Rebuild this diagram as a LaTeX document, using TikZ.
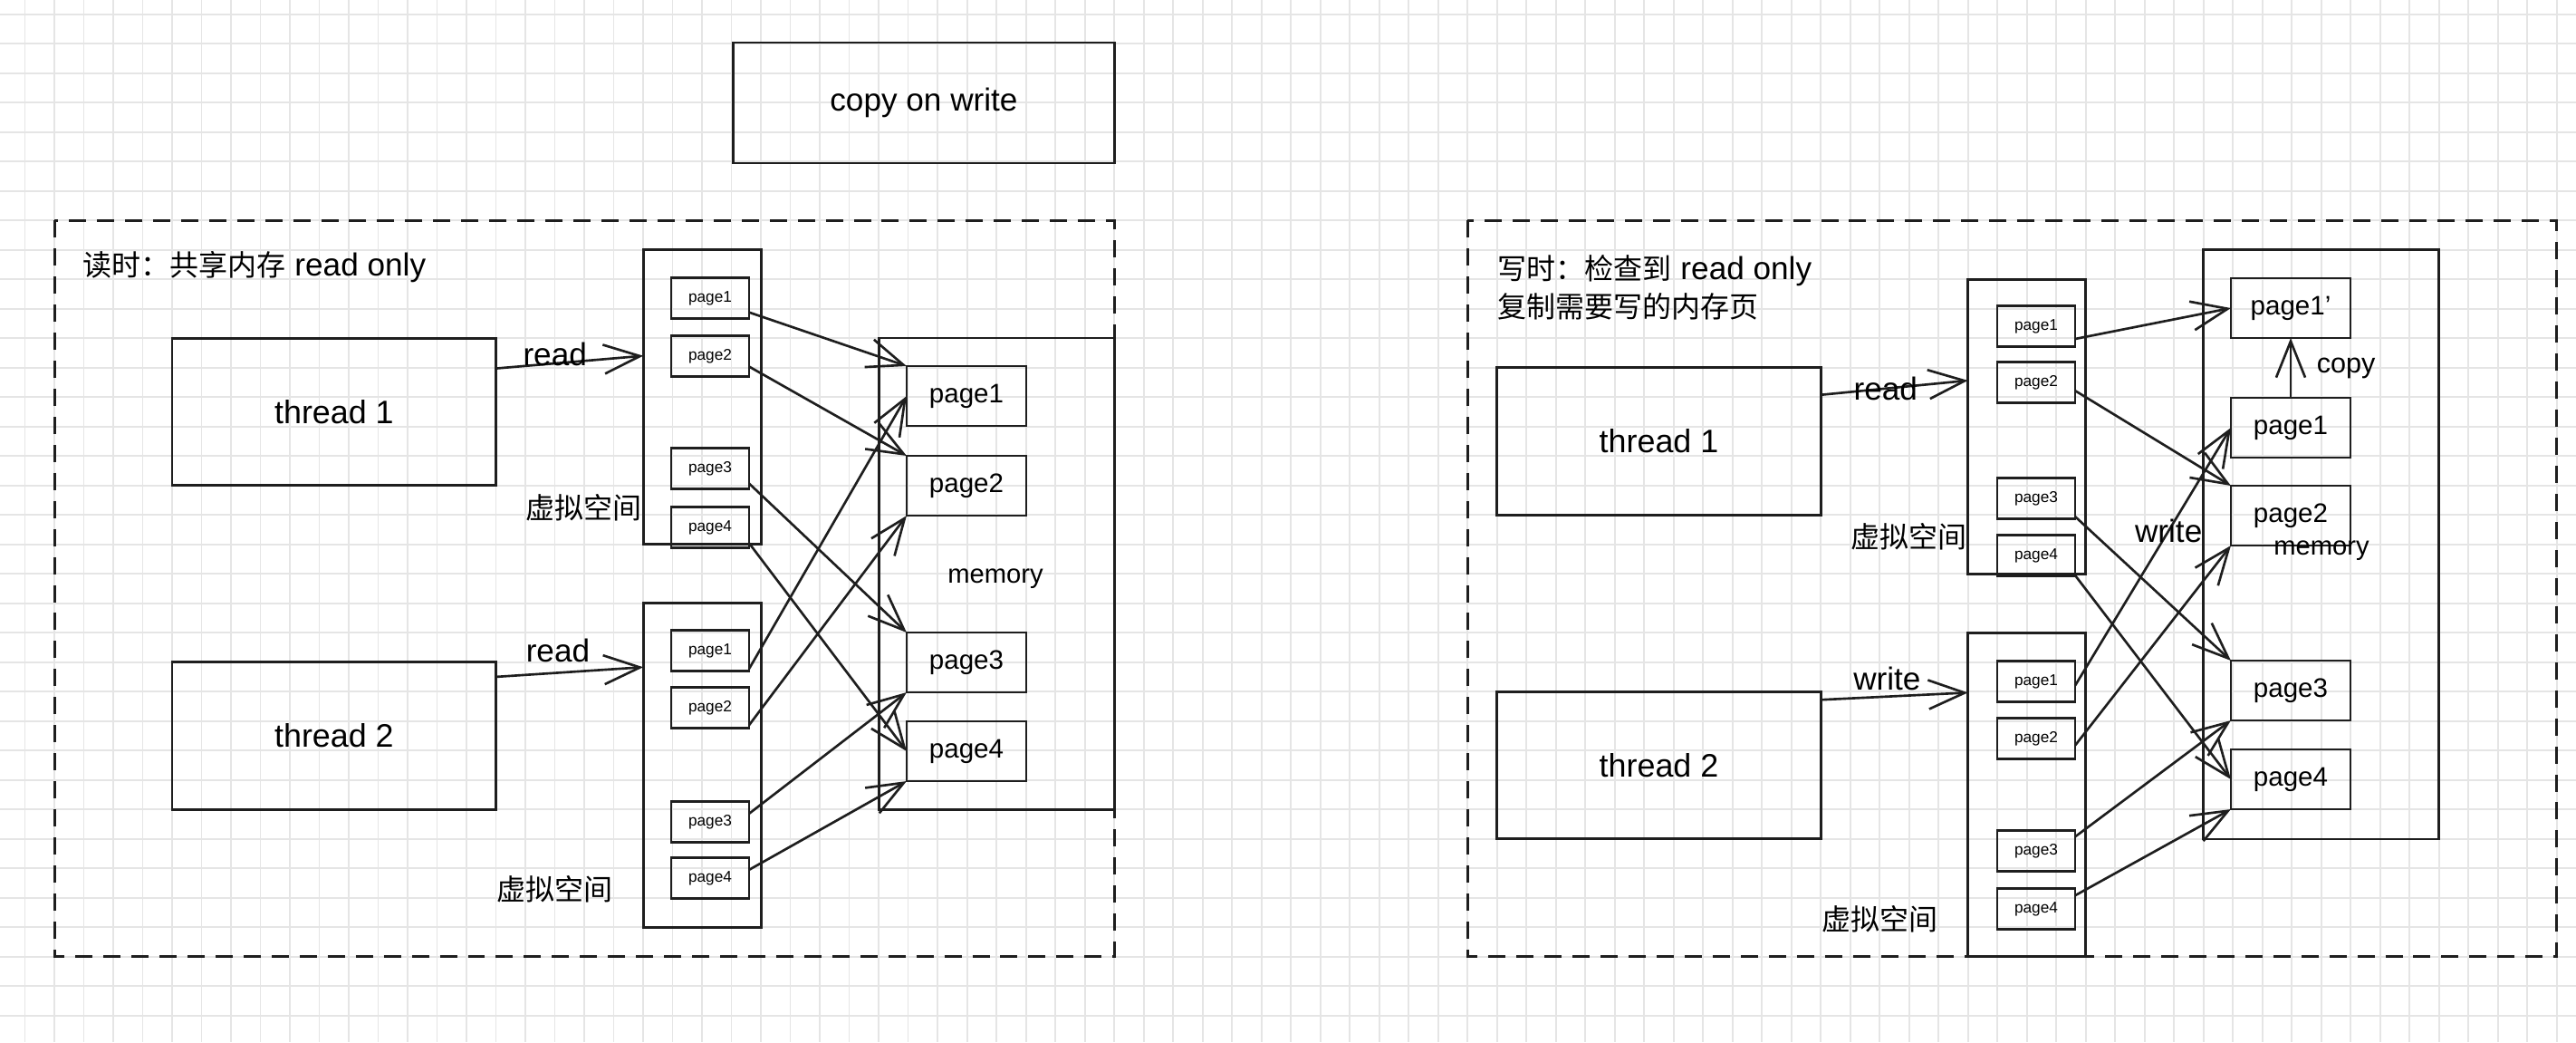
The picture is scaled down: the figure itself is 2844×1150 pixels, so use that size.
\documentclass[tikz,border=0pt]{standalone}
\usepackage{fontspec}
\setmainfont{Liberation Sans}
\newfontfamily\cjk{Noto Sans CJK SC}
\usepackage{xcolor}
\usepackage{tikz}
\usetikzlibrary{arrows.meta,positioning,calc}
\definecolor{SketchInk}{HTML}{1E1E1E}
\definecolor{GridGray}{HTML}{E5E5E5}
\newcommand{\cjktext}[1]{{\cjk\fontsize{9.1}{11}\selectfont #1}}
\tikzset{
  sketchbox/.style={draw=SketchInk, line width=0.8pt, inner sep=0pt, outer sep=0pt, align=center},
  threadbox/.style={sketchbox, minimum width=35.75mm, minimum height=16.25mm,
    font=\fontsize{10.2}{12}\selectfont},
  vspacebox/.style={sketchbox, minimum width=13mm},
  memorybox/.style={sketchbox, minimum width=26mm},
  mempage/.style={sketchbox, minimum width=13.2mm, minimum height=6.6mm,
    font=\fontsize{8.4}{10}\selectfont},
  smallpage/.style={sketchbox, minimum width=8.6mm, minimum height=4.5mm,
    font=\fontsize{4.9}{6}\selectfont},
  titlebox/.style={sketchbox, minimum width=42mm, minimum height=13.3mm,
    font=\fontsize{10}{12}\selectfont},
  dashframe/.style={draw=SketchInk, line width=0.75pt, dash pattern=on 5.4pt off 3.4pt},
  gridline/.style={draw=GridGray, line width=0.45pt},
  wire/.style={draw=SketchInk, line width=0.75pt, -{Straight Barb[length=4mm, width=3.2mm]}},
  labeltext/.style={inner sep=1pt, font=\fontsize{10}{12}\selectfont},
  plaintext/.style={inner sep=0pt, font=\fontsize{10}{12}\selectfont}
}
\begin{document}
\begin{tikzpicture}[x=0.01cm, y=-0.01cm]
  \useasboundingbox (0,0) rectangle (2844,1150);
  \fill[white] (0,0) rectangle (2844,1150);
  % background grid
  \foreach \i in {0,...,87} \draw[gridline] ({27.7+32.5*\i},0) -- ({27.7+32.5*\i},1150);
  \foreach \j in {0,...,35} \draw[gridline] (0,{15.7+32.5*\j}) -- (2844,{15.7+32.5*\j});

  \node[titlebox] (cow) at (1020,113.5) {copy on write};

  % read: shared pages
  \draw[dashframe] (60.2,243.2) rectangle (1230.2,1055.7);
  \node[plaintext, anchor=west] (readnote) at (91,295) {\cjktext{读时：共享内存} read only};
  \node[threadbox] (thread1) at (368.9,454.5) {thread 1};
  \node[threadbox] (thread2) at (368.9,812) {thread 2};
  \node[vspacebox, minimum height=32.5mm] (vsA) at (775.2,438.2) {};
  \node[vspacebox, minimum height=35.75mm] (vsB) at (775.2,844.5) {};
  \node[memorybox, minimum height=52mm] (mem) at (1100.2,633.2) {};
  \node[plaintext, font=\fontsize{8.3}{10}\selectfont] (memlabel) at (1099,639) {memory};
  \node[plaintext] (vsAlabel) at (644,560) {\cjktext{虚拟空间}};
  \node[plaintext] (vsBlabel) at (612,981) {\cjktext{虚拟空间}};

  \node[smallpage] (vpa1) at (784,329) {page1};
  \node[smallpage] (vpa2) at (784,393) {page2};
  \node[smallpage] (vpa3) at (784,517) {page3};
  \node[smallpage] (vpa4) at (784,582) {page4};
  \node[smallpage] (vpb1) at (784,718) {page1};
  \node[smallpage] (vpb2) at (784,781) {page2};
  \node[smallpage] (vpb3) at (784,907) {page3};
  \node[smallpage] (vpb4) at (784,969) {page4};

  \node[mempage] (pp1) at (1067,437) {page1};
  \node[mempage] (pp2) at (1067,536) {page2};
  \node[mempage] (pp3) at (1067,731) {page3};
  \node[mempage] (pp4) at (1067,829) {page4};

  \draw[wire] (thread1.15) -- node[labeltext, pos=0.4, above=-2.3pt]{read} (vsA.145);
  \draw[wire] (thread2.20) -- node[labeltext, pos=0.42, above=1.9pt]{read} (vsB.121);
  \draw[wire] (vpa1.-20) -- (pp1.north west);
  \draw[wire] (vpa2.-15) -- (pp2.north west);
  \draw[wire] (vpa3.-21) -- (pp3.north west);
  \draw[wire] (vpa4.-22) -- (pp4.west);
  \draw[wire] (vpb1.-25) -- (pp1.west);
  \draw[wire] (vpb2.-24) -- (pp2.south west);
  \draw[wire] (vpb3.12) -- (pp3.south west);
  \draw[wire] (vpb4.12) -- (pp4.south west);

  % write: copy the page
  \draw[dashframe] (1620.2,243.2) rectangle (2822.7,1055.7);
  \node[plaintext, anchor=west, align=left] (writenote) at (1653,317)
    {\cjktext{写时：检查到} read only\\\cjktext{复制需要写的内存页}};
  \node[threadbox] (wthread1) at (1831.5,487) {thread 1};
  \node[threadbox] (wthread2) at (1831.5,844.5) {thread 2};
  \node[vspacebox, minimum height=32.5mm] (wvsA) at (2237.7,470.7) {};
  \node[vspacebox, minimum height=35.75mm] (wvsB) at (2237.7,877) {};
  \node[memorybox, minimum height=65mm] (wmem) at (2562.7,600.7) {};
  \node[plaintext] (wvsAlabel) at (2107,592) {\cjktext{虚拟空间}};
  \node[plaintext] (wvsBlabel) at (2075,1014) {\cjktext{虚拟空间}};

  \node[smallpage] (wvpa1) at (2248,360) {page1};
  \node[smallpage] (wvpa2) at (2248,422) {page2};
  \node[smallpage] (wvpa3) at (2248,550) {page3};
  \node[smallpage] (wvpa4) at (2248,613) {page4};
  \node[smallpage] (wvpb1) at (2248,752) {page1};
  \node[smallpage] (wvpb2) at (2248,815) {page2};
  \node[smallpage] (wvpb3) at (2248,939) {page3};
  \node[smallpage] (wvpb4) at (2248,1003) {page4};

  \node[mempage] (wpp1c) at (2529,340) {page1'};
  \node[mempage] (wpp1) at (2529,472) {page1};
  \node[mempage] (wpp2) at (2529,569) {page2};
  \node[mempage] (wpp3) at (2529,762) {page3};
  \node[mempage] (wpp4) at (2529,860) {page4};
  \node[plaintext, font=\fontsize{8.3}{10}\selectfont] (wmemlabel) at (2563,608) {memory};

  \draw[wire] (wthread1.16) -- node[labeltext, pos=0.44]{read} (wvsA.142);
  \draw[wire] (wthread2.22) -- node[labeltext, pos=0.45, above=0.5pt]{write} (wvsB.120);
  \draw[wire] (wpp1.north) -- node[labeltext, right=2.4mm, font=\fontsize{8.7}{10}\selectfont]{copy} (wpp1c.south);
  \draw[wire] (wvpa1.-18) -- (wpp1c.west);
  \draw[wire] (wvpa2.-12) -- (wpp2.north west);
  \draw[wire] (wvpa3.-25) -- (wpp3.north west);
  \draw[wire] (wvpa4.-27) -- (wpp4.west);
  \draw[wire] (wvpb1.-6) -- node[labeltext, pos=0.6]{write} (wpp1.west);
  \draw[wire] (wvpb2.-10) -- (wpp2.south west);
  \draw[wire] (wvpb3.20) -- (wpp3.south west);
  \draw[wire] (wvpb4.19) -- (wpp4.south west);
\end{tikzpicture}
\end{document}
